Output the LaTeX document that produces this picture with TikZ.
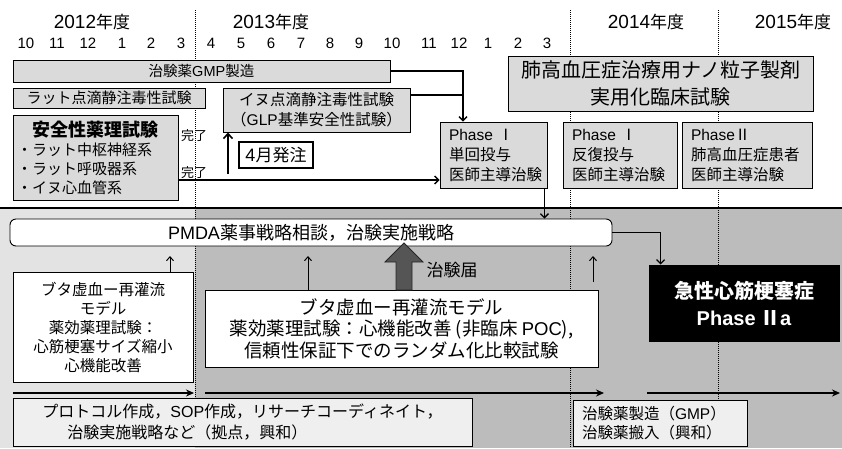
\documentclass[tikz,border=0pt]{standalone}
\usepackage{fontspec}
\setmainfont{Noto Sans CJK JP}
\newfontfamily\lat{Liberation Sans}
\usetikzlibrary{arrows.meta,calc}
\definecolor{boxgray}{HTML}{DADADA}
\definecolor{lightbox}{HTML}{EFEFEF}
\definecolor{bgleft}{HTML}{E3E3E3}
\definecolor{bgright}{HTML}{BCBCBC}
\definecolor{blockarrow}{HTML}{555555}
\newcommand{\fsz}[2]{\fontsize{#1}{#2}\selectfont}
\newcommand{\yr}[1]{{\lat\fsz{19}{20}#1}年度}
\begin{document}
\begin{tikzpicture}[x=1pt,y=-1pt,
  box/.style={draw=black, line width=0.9pt, fill=boxgray, inner sep=0pt, align=center},
  wbox/.style={box, fill=white},
  lbl/.style={inner sep=0pt, align=center},
  conn/.style={line width=1.3pt, -{Straight Barb[length=4pt,width=8pt]}},
  thinconn/.style={line width=1pt, -{Straight Barb[length=4pt,width=7pt]}},
  flow/.style={line width=1.8pt, -{Stealth[length=8pt,width=7pt]}},
  divider/.style={densely dotted, line width=1pt}]
\useasboundingbox (0,0) rectangle (842,448);
% backgrounds
\fill[white] (0,0) rectangle (842,209);
\fill[bgleft] (0,209) rectangle (195,448);
\fill[bgright] (195,209) rectangle (842,448);
% dividers
\draw[divider] (195,10) -- (195,448);
\draw[divider] (570,10) -- (570,448);
\draw[divider] (718,10) -- (718,448);
\draw[line width=2.6pt] (0,208) -- (842,208);
% headers
\node[lbl, font=\fsz{17}{20}] (y12) at (92,22) {\yr{2012}};
\node[lbl, font=\fsz{17}{20}] (y13) at (271,22) {\yr{2013}};
\node[lbl, font=\fsz{17}{20}] (y14) at (646,22) {\yr{2014}};
\node[lbl, font=\fsz{17}{20}] (y15) at (793,22) {\yr{2015}};
\foreach \mx/\mt [count=\i] in {26/10,57/11,88/12,122/1,151/2,181/3,211/4,241/5,271/6,301/7,330/8,359/9,392/10,429/11,459/12,488/1,518/2,547/3}
  \node[lbl, font=\lat\fsz{15}{16}] (m\i) at (\mx,43) {\mt};
% upper boxes
\node[box, minimum width=377pt, minimum height=22pt, font=\fsz{14.5}{17}] (gmp) at (201.5,71) {治験薬{\lat GMP}製造};
\node[box, minimum width=192pt, minimum height=20pt, font=\fsz{15}{17}] (rat) at (109,98) {ラット点滴静注毒性試験};
\node[box, minimum width=187pt, minimum height=44pt, font=\fsz{15.5}{20}] (dog) at (316.5,110) {イヌ点滴静注毒性試験\\（{\lat GLP}基準安全性試験）};
\node[box, text width=157pt, inner xsep=4pt, minimum height=85pt, align=left, font=\fsz{15}{19}] (safety) at (95.5,157.5)
  {\makebox[157pt][c]{\fsz{18}{22}\bfseries 安全性薬理試験}\\・ラット中枢神経系\\・ラット呼吸器系\\・イヌ心血管系};
\node[lbl, font=\fsz{13}{15}] (done1) at (194,136) {完了};
\node[lbl, font=\fsz{13}{15}] (done2) at (194,173) {完了};
\node[wbox, line width=1.3pt, minimum width=74pt, minimum height=26pt, font=\fsz{17}{20}] (order) at (276,155) {{\lat\fsz{18}{20}4}月発注};
\node[box, minimum width=305pt, minimum height=55pt, font=\fsz{20}{27}] (nano) at (660.5,83.5) {肺高血圧症治療用ナノ粒子製剤\\実用化臨床試験};
\node[box, text width=89pt, inner xsep=9pt, minimum height=66pt, align=left, font=\fsz{15.5}{20}] (p1) at (493.5,155) {{\lat Phase} Ⅰ\\単回投与\\医師主導治験};
\node[box, text width=96pt, inner xsep=9pt, minimum height=66pt, align=left, font=\fsz{15.5}{20}] (p2) at (620,155) {{\lat Phase} Ⅰ\\反復投与\\医師主導治験};
\node[box, text width=112pt, inner xsep=9pt, minimum height=66pt, align=left, font=\fsz{15.5}{20}] (p3) at (747,155) {{\lat Phase}Ⅱ\\肺高血圧症患者\\医師主導治験};
% upper connectors
\coordinate (jx) at (463,0);
\draw[conn] (gmp.east) -| (jx |- p1.north);
\draw[line width=1.2pt] ([yshift=15pt]dog.east) -- ([yshift=15pt]dog.east -| jx);
\draw[conn] ([yshift=-22.5pt]safety.east) -- ([yshift=-22.5pt]safety.east -| p1.west);
\coordinate (upstart) at (228,174);
\draw[line width=1.6pt, -{Straight Barb[length=5pt,width=9pt]}] (upstart) -- (upstart |- dog.south);
% lower part
\node[wbox, rounded corners=6pt, minimum width=602pt, minimum height=27pt, font=\fsz{18}{21}] (pmda) at (311,232.5) {{\lat PMDA}薬事戦略相談，治験実施戦略};
\draw[conn] ([xshift=-3pt]p1.south east) -- ([xshift=-3pt]p1.south east |- pmda.north);
\node[box, fill=black, text=white, minimum width=190pt, minimum height=76pt, font=\fsz{20}{27}] (mi) at (744,303) {{\bfseries 急性心筋梗塞症}\\{\lat\bfseries Phase} {\bfseries Ⅱ}{\lat\bfseries a}};
\draw[conn] (pmda.east) -| ([xshift=12pt]mi.north west);
\node[wbox, minimum width=180pt, minimum height=110pt, font=\fsz{15.5}{19}] (butaL) at (103,327) {ブタ虚血ー再灌流\\モデル\\薬効薬理試験：\\心筋梗塞サイズ縮小\\心機能改善};
\node[wbox, minimum width=393pt, minimum height=77pt, font=\fsz{18.5}{21.5}] (butaB) at (401.5,328.5) {ブタ虚血ー再灌流モデル\\薬効薬理試験：心機能改善 (非臨床 {\lat POC}),\\信頼性保証下でのランダム化比較試験};
% small up arrows
\coordinate (u1) at (170,256);
\coordinate (u2) at (308,256);
\coordinate (u3) at (593,256);
\draw[thinconn] (butaL.north -| u1) -- (u1);
\draw[thinconn] (butaB.north -| u2) -- (u2);
\draw[thinconn] ([yshift=8pt]butaB.north -| u3) -- (u3);
% block arrow (shape)
\filldraw[fill=blockarrow, draw=black!85, line width=0.8pt]
  (404,243) -- (423,262) -- (412,262) -- (412,290) -- (396,290) -- (396,262) -- (385,262) -- cycle;
\node[lbl, font=\fsz{17}{20}] (notice) at (452,270) {治験届};
% bottom flow arrows
\coordinate (f0) at (13,393);
\coordinate (f1) at (194,393);
\coordinate (f2) at (205,393);
\coordinate (f3) at (604,393);
\coordinate (f4) at (647,393);
\coordinate (f5) at (840,393);
\draw[flow] (f0) -- (f1);
\draw[flow] (f2) -- (f3);
\draw[flow] (f4) -- (f5);
% bottom boxes
\node[box, fill=lightbox, minimum width=459pt, minimum height=48pt, align=left, font=\fsz{16}{21}] (proto) at (242.5,422) {プロトコル作成，{\lat SOP}作成，リサーチコーディネイト，\\\hspace*{25pt}治験実施戦略など（拠点，興和）};
\node[box, fill=lightbox, text width=156pt, inner xsep=9pt, minimum height=46pt, align=left, font=\fsz{15.5}{19}] (drug) at (660,423) {治験薬製造（{\lat GMP}）\\治験薬搬入（興和）};
\end{tikzpicture}
\end{document}
